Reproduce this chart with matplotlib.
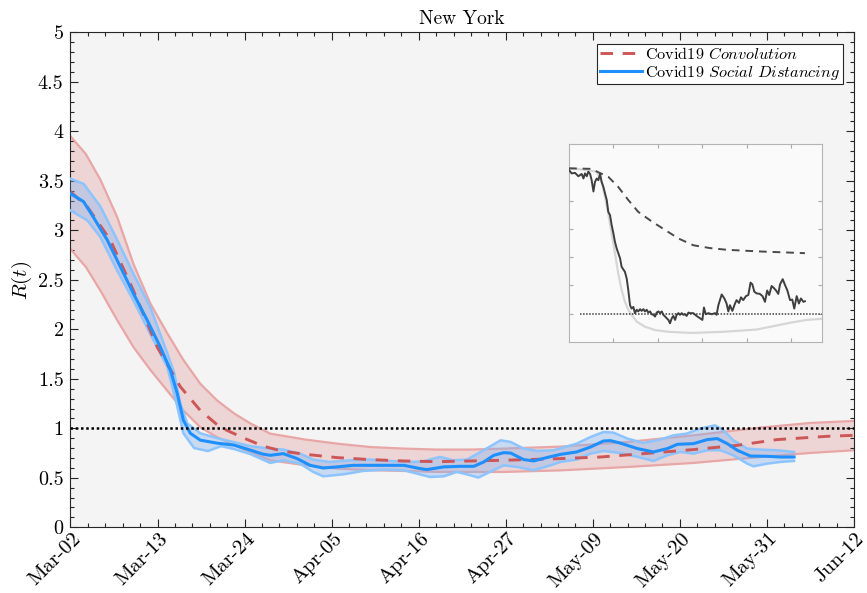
import numpy as np
import matplotlib
matplotlib.use("Agg")
import matplotlib.pyplot as plt
from matplotlib.ticker import AutoMinorLocator
import matplotlib.transforms as mtransforms

plt.rcParams['font.family'] = 'cmr10'
plt.rcParams['mathtext.fontset'] = 'cm'
plt.rcParams['axes.formatter.use_mathtext'] = True

# ---------------- data ----------------
title = "New York"
xtick_labels = ["Mar-02", "Mar-13", "Mar-24", "Apr-05", "Apr-16",
                "Apr-27", "May-09", "May-20", "May-31", "Jun-12"]
n_days = 102
ytick_vals = [0, 0.5, 1, 1.5, 2, 2.5, 3, 3.5, 4, 4.5, 5]
ytick_labels = ["0", "0.5", "1", "1.5", "2", "2.5", "3", "3.5", "4", "4.5", "5"]

# Covid19 Convolution (mean + band)
conv_days = [0, 2.16, 5.2, 8.2, 11.3, 14.3, 16.9, 19.5, 22.6, 25.1, 27.5, 30.6,
             34.7, 39.0, 43.4, 47.7, 52.1, 56.4, 63.8, 69.0, 74.6, 81.1, 86.8,
             92.0, 98.5, 102]
conv_mean = [3.39, 3.24, 2.90, 2.39, 1.82, 1.42, 1.18, 1.01, 0.90, 0.82, 0.77,
             0.737, 0.704, 0.684, 0.67, 0.663, 0.67, 0.677, 0.694, 0.71, 0.744,
             0.785, 0.828, 0.886, 0.919, 0.929]
conv_band_days = [0, 2.0, 3.9, 6.1, 8.2, 10.4, 12.6, 14.7, 16.9, 19.1, 21.3, 23.4,
                  26.0, 30.6, 34.7, 39.0, 43.4, 47.7, 52.1, 56.4, 63.8, 72.5,
                  81.1, 89.8, 96.3, 102]
conv_upper = [3.95, 3.77, 3.51, 3.13, 2.66, 2.26, 1.96, 1.69, 1.45, 1.28, 1.15,
              1.05, 0.946, 0.886, 0.845, 0.811, 0.795, 0.785, 0.785, 0.795,
              0.815, 0.862, 0.929, 1.007, 1.054, 1.074]
conv_lower = [2.81, 2.63, 2.39, 2.09, 1.82, 1.59, 1.38, 1.18, 1.01, 0.91, 0.83,
              0.76, 0.677, 0.626, 0.593, 0.576, 0.569, 0.559, 0.559, 0.559,
              0.575, 0.609, 0.65, 0.71, 0.751, 0.778]

# Covid19 Social Distancing (mean + band)
sd_days = [0, 1.7, 3.0, 4.8, 6.5, 8.2, 10.0, 11.7, 13.0, 13.9, 14.7, 15.6, 16.9,
           19.1, 21.3, 23.4, 25.0, 26.0, 27.7, 29.5, 31.2, 32.9, 34.7, 36.8,
           39.0, 41.2, 43.4, 45.5, 46.4, 48.6, 50.7, 52.5, 53.8, 55.1, 56.4,
           57.3, 59.0, 60.3, 62.0, 63.8, 65.9, 67.7, 69.4, 70.3, 71.6, 73.8,
           75.9, 77.7, 79.0, 81.1, 82.9, 84.2, 85.5, 86.8, 88.5, 90.7, 92.4, 94.2]
sd_mean = [3.37, 3.29, 3.13, 2.90, 2.63, 2.36, 2.09, 1.82, 1.59, 1.35, 1.08,
           0.95, 0.88, 0.85, 0.83, 0.78, 0.74, 0.727, 0.744, 0.694, 0.626, 0.599,
           0.61, 0.626, 0.626, 0.626, 0.626, 0.593, 0.583, 0.61, 0.616, 0.616,
           0.66, 0.727, 0.754, 0.75, 0.684, 0.67, 0.704, 0.737, 0.761, 0.811,
           0.872, 0.875, 0.85, 0.795, 0.761, 0.795, 0.838, 0.845, 0.886, 0.896,
           0.845, 0.778, 0.72, 0.717, 0.71, 0.71]
sd_up_days = [0, 1.7, 3.9, 6.1, 8.2, 10.4, 12.6, 13.5, 14.3, 15.2, 16.9, 19.1,
              21.3, 23.4, 26.0, 27.7, 29.9, 31.6, 33.7, 36.4, 39.0, 41.6, 44.2,
              45.9, 48.1, 49.8, 51.6, 53.4, 56.0, 57.3, 59.0, 60.8, 62.9, 65.9,
              67.7, 69.4, 70.7, 72.5, 74.6, 76.8, 78.5, 80.2, 82.0, 83.9, 85.0,
              86.3, 88.1, 89.8, 92.0, 94.2]
sd_upper = [3.52, 3.47, 3.24, 2.90, 2.56, 2.22, 1.76, 1.56, 1.25, 1.05, 0.95,
            0.90, 0.86, 0.82, 0.795, 0.785, 0.744, 0.684, 0.66, 0.677, 0.684,
            0.67, 0.66, 0.666, 0.711, 0.677, 0.684, 0.761, 0.879, 0.862, 0.795,
            0.771, 0.778, 0.845, 0.912, 0.963, 0.956, 0.896, 0.852, 0.886, 0.929,
            0.946, 0.997, 1.03, 0.98, 0.879, 0.795, 0.785, 0.778, 0.761]
sd_lo_days = [0, 2.2, 3.9, 6.1, 8.2, 10.4, 12.6, 13.9, 14.7, 16.1, 17.9, 19.6,
              21.3, 23.4, 26.0, 27.7, 29.9, 31.6, 32.9, 35.5, 38.1, 40.7, 43.4,
              45.1, 46.8, 48.6, 50.3, 51.6, 53.1, 54.6, 56.4, 58.1, 60.3, 62.5,
              63.8, 65.9, 67.7, 69.4, 71.6, 73.8, 75.9, 77.7, 79.4, 81.1, 82.9,
              84.6, 86.3, 88.1, 88.9, 90.7, 92.4, 94.2]
sd_lower = [3.20, 3.10, 2.93, 2.59, 2.29, 1.95, 1.62, 1.22, 0.95, 0.80, 0.77,
            0.82, 0.79, 0.74, 0.65, 0.677, 0.643, 0.559, 0.515, 0.535, 0.569,
            0.582, 0.576, 0.542, 0.508, 0.515, 0.559, 0.535, 0.502, 0.559, 0.626,
            0.61, 0.576, 0.626, 0.66, 0.684, 0.744, 0.771, 0.75, 0.711, 0.67,
            0.727, 0.761, 0.744, 0.778, 0.778, 0.727, 0.643, 0.616, 0.643, 0.66,
            0.67]
threshold = 1.0

# Inset series
inset_obs_days = [0.0, 1.2, 2.7, 4.2, 5.7, 6.5, 7.2, 8.0, 8.7, 9.5, 10.2, 11.0,
                  11.7, 12.5, 13.2, 14.0, 14.7, 15.5, 16.2, 17.0, 17.7, 18.5,
                  19.2, 20.0, 20.7, 21.5, 22.2, 23.0, 23.7, 24.5, 25.2, 26.0,
                  26.7, 27.5, 28.2, 29.0, 29.7, 30.5, 31.2, 32.0, 32.7, 33.5,
                  34.2, 35.0, 35.7, 36.5, 37.3, 38.0, 38.8, 39.5, 40.3, 41.0,
                  41.8, 42.5, 43.3, 44.0, 44.8, 45.5, 46.3, 47.0, 47.8, 48.5,
                  49.3, 50.0, 50.8, 51.5, 52.3, 53.0, 53.8, 54.5,
                  56.0, 57.5, 59.0, 60.1, 60.8, 61.6, 62.8, 64.3, 65.8, 66.5,
                  67.3, 68.8, 70.0, 71.0, 71.8, 72.5, 73.6, 74.8, 75.5, 76.6,
                  77.5, 78.5, 79.7, 80.8, 81.8, 82.6, 83.5, 84.5, 86.0, 87.2,
                  88.3, 89.3, 90.2, 91.3, 92.4, 93.3, 94.3, 95.1, 96.3, 97.3,
                  98.4, 99.6, 100.6, 101.5, 102.6, 103.6, 104.5, 105.6, 106.3]
inset_obs = [3.54, 3.48, 3.49, 3.43, 3.47, 3.39, 3.48, 3.43, 3.51, 3.47, 3.36,
             3.16, 3.33, 3.39, 3.36, 3.47, 3.33, 3.24, 3.13, 3.01, 2.80, 2.74,
             2.57, 2.42, 2.27, 2.15, 2.07, 1.98, 1.83, 1.78, 1.74, 1.62, 1.42,
             1.15, 1.09, 1.12, 1.01, 1.07, 1.04, 1.08, 1.05, 1.08, 1.04, 1.07,
             1.02, 1.04, 0.99, 0.98, 0.95, 1.02, 1.04, 1.01, 1.04, 0.98, 0.95,
             0.92, 0.89, 0.83, 0.92, 0.96, 0.89, 0.98, 1.01, 0.98, 1.01, 0.98,
             0.99, 0.96, 1.02, 1.01,
             1.01, 0.96, 0.92, 0.89, 1.11, 0.99, 1.01, 0.99, 1.01, 0.98, 1.15,
             1.34, 1.27, 1.18, 1.04, 1.15, 1.05, 1.18, 1.24, 1.19, 1.29, 1.24,
             1.31, 1.33, 1.55, 1.52, 1.39, 1.36, 1.35, 1.31, 1.21, 1.41, 1.33,
             1.49, 1.45, 1.41, 1.35, 1.52, 1.61, 1.51, 1.41, 1.24, 1.25, 1.09,
             1.31, 1.18, 1.27, 1.21, 1.22]
inset_conv_days = [0, 10.0, 13.2, 17.7, 22.2, 26.7, 31.2, 37.3, 43.3, 49.3, 56.0,
                   63.5, 71.0, 86.0, 106.3]
inset_conv = [3.57, 3.56, 3.50, 3.42, 3.24, 3.01, 2.80, 2.63, 2.48, 2.33, 2.21,
              2.16, 2.13, 2.10, 2.07]
inset_model_days = [0, 5.7, 12.5, 14.7, 16.2, 17.7, 19.2, 20.7, 22.2, 23.7, 25.2,
                    26.7, 28.2, 30.5, 34.2, 38.8, 44.8, 55.3, 69.5, 84.5, 92.1,
                    99.6, 107.1, 114]
inset_model = [3.57, 3.55, 3.51, 3.33, 3.07, 2.77, 2.42, 2.07, 1.71, 1.42, 1.21,
               1.07, 0.98, 0.86, 0.77, 0.71, 0.68, 0.66, 0.68, 0.72, 0.78, 0.84,
               0.89, 0.91]
inset_thr_days = [5, 114]

# ---------------- figure ----------------
fig = plt.figure(figsize=(8.67, 5.93), dpi=100)
ax = fig.add_axes([0.0813, 0.1108, 0.9037, 0.8347])
ax.set_facecolor('#f4f4f4')

ax.fill_between(conv_band_days, conv_lower, conv_upper, color='#e6b0b0',
                alpha=0.45, lw=0, zorder=1)
ax.plot(conv_band_days, conv_upper, color='#e8a6a6', lw=1.6, zorder=2)
ax.plot(conv_band_days, conv_lower, color='#e8a6a6', lw=1.6, zorder=2)

poly_x = np.concatenate([sd_up_days, sd_lo_days[::-1]])
poly_y = np.concatenate([sd_upper, sd_lower[::-1]])
ax.fill(poly_x, poly_y, color='#7fb2f0', alpha=0.38, lw=0, zorder=3)
ax.plot(sd_up_days, sd_upper, color='#8cc4ff', lw=1.8, zorder=4)
ax.plot(sd_lo_days, sd_lower, color='#8cc4ff', lw=1.8, zorder=4)

ax.plot(conv_days, conv_mean, color='#cd5656', lw=2.1,
        ls=(0, (4.3, 3.3)), zorder=5, label='Covid19 $\\mathit{Convolution}$')
ax.plot(sd_days, sd_mean, color='#1e8fff', lw=2.2, zorder=6,
        label='Covid19 $\\mathit{Social\\ Distancing}$')
ax.axhline(threshold, color='black', lw=1.8, ls=(0, (1, 1.1)), zorder=7)

ax.set_xlim(0, n_days)
ax.set_ylim(0, 5)
ax.set_xticks(np.linspace(0, n_days, len(xtick_labels)))
ax.set_xticklabels(xtick_labels, rotation=45, ha='right', va='baseline',
                   rotation_mode='anchor')
ax.set_yticks(ytick_vals)
ax.set_yticklabels(ytick_labels)
ax.xaxis.set_minor_locator(AutoMinorLocator(5))
ax.yaxis.set_minor_locator(AutoMinorLocator(5))
ax.tick_params(which='both', direction='in', top=True, right=True,
               color='#262626', width=0.8, labelsize=14.5)
ax.tick_params(which='major', length=6)
ax.tick_params(which='minor', length=3)
ax.tick_params(axis='y', pad=5)
ax.tick_params(axis='x', pad=0, labelsize=15)
offset = mtransforms.ScaledTranslation(11 / 100, -12 / 100, fig.dpi_scale_trans)
for lab in ax.get_xticklabels():
    lab.set_transform(lab.get_transform() + offset)
for sp in ax.spines.values():
    sp.set_color('#262626')
    sp.set_linewidth(0.8)

ax.set_title(title, fontsize=14, pad=6)
ax.set_ylabel('$R(t)$', fontsize=15, labelpad=3)

leg = ax.legend(loc='upper right', fontsize=11.7, frameon=True, fancybox=False,
                edgecolor='#262626', framealpha=1, handlelength=2.6,
                borderpad=0.15, labelspacing=0.05, borderaxespad=0.7,
                handletextpad=0.2)
leg.get_frame().set_linewidth(0.8)

# ---------------- inset ----------------
inax = fig.add_axes([0.6563, 0.4233, 0.2918, 0.3339])
inax.set_facecolor('#fafafa')
inax.plot(inset_model_days, inset_model, color='#d6d6d6', lw=1.6, zorder=2)
inax.plot(inset_conv_days, inset_conv, color='#4a4a4a', lw=1.4,
          ls=(0, (4, 3)), zorder=3)
inax.plot(inset_obs_days, inset_obs, color='#3f3f3f', lw=1.4, zorder=4)
inax.plot(inset_thr_days, [threshold, threshold], color='#404040', lw=1.1,
          ls=(0, (1, 1)), zorder=5)
inax.set_xlim(0, 114)
inax.set_ylim(0.5, 4)
inax.set_xticks([20, 40, 60, 80, 100])
inax.set_yticks([1, 1.5, 2, 2.5, 3])
inax.tick_params(direction='in', top=True, right=True, length=3,
                 color='#a8a8a8', labelbottom=False, labelleft=False)
for sp in inax.spines.values():
    sp.set_color('#b4b4b4')
    sp.set_linewidth(0.8)

fig.savefig('out.png', dpi=100)
